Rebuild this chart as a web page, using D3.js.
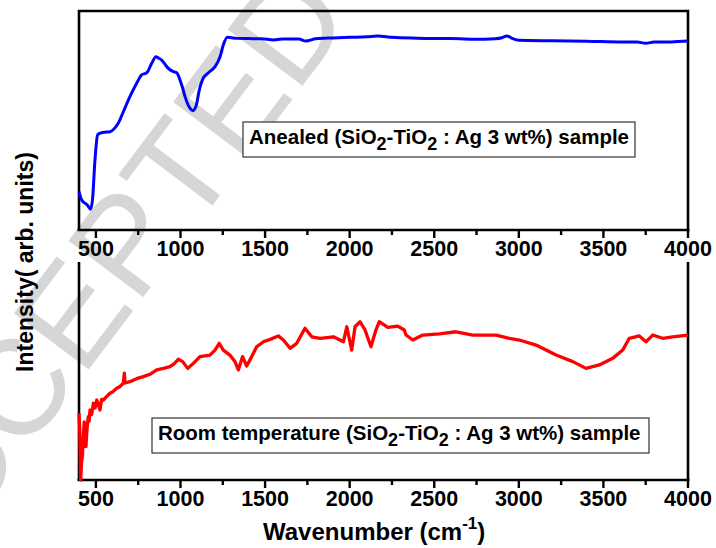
<!DOCTYPE html>
<html>
<head>
<meta charset="utf-8">
<script src="https://cdn.jsdelivr.net/npm/d3@7"></script>
<style>
  body { margin: 0; background: #fff; }
  svg text { font-family: 'Liberation Sans', Arial, sans-serif; font-weight: bold; }
</style>
</head>
<body>
<div class="container"></div>
<script>
// annealed sample (blue, top panel)
const annealedWavenumber = [400, 416, 449, 468, 480, 494, 510, 525, 545, 583, 605, 632, 662, 701, 741, 770, 800, 830, 855, 870, 889, 910, 928, 958, 978, 997, 1012, 1027, 1056, 1072, 1092, 1111, 1131, 1165, 1204, 1234, 1253, 1277, 1300, 1332, 1400, 1480, 1550, 1600, 1700, 1740, 1800, 1900, 2000, 2100, 2165, 2250, 2400, 2600, 2800, 2860, 2900, 2930, 2960, 3000, 3200, 3400, 3615, 3700, 3750, 3800, 3900, 4000]
const annealedIntensity = [17.5, 13.7, 11.4, 9.5, 14, 31.5, 43.4, 44.2, 44.6, 44.9, 46, 48.7, 54.0, 60.9, 67.0, 70.8, 71.8, 76.1, 79.1, 78.5, 77.6, 75.5, 73.8, 72.3, 71.8, 68.5, 65, 60.9, 55.6, 54.5, 56.6, 63.9, 68.8, 71.8, 74.6, 79.1, 84.5, 88.0, 87.8, 87.5, 87.4, 87.3, 86.8, 87.2, 87.2, 86.3, 87.3, 87.7, 88.0, 88.2, 88.6, 88.0, 87.6, 87.4, 87.1, 87.3, 87.8, 88.6, 87.5, 86.6, 86.4, 86.2, 85.8, 85.8, 85.3, 85.8, 85.9, 86.3]

// room temperature sample (red, bottom panel)
const roomWavenumber = [400, 405, 410, 415, 420, 426, 431, 436, 441, 448, 455, 460, 465, 475, 485, 495, 505, 515, 524, 534, 544, 560, 583, 600, 623, 640, 662, 668, 672, 701, 740, 780, 820, 859, 900, 938, 965, 987, 1013, 1042, 1076, 1115, 1174, 1204, 1229, 1253, 1292, 1322, 1342, 1367, 1391, 1421, 1450, 1490, 1530, 1578, 1608, 1648, 1687, 1736, 1776, 1825, 1904, 1963, 1983, 2000, 2012, 2032, 2061, 2090, 2126, 2155, 2175, 2225, 2284, 2323, 2333, 2373, 2432, 2530, 2629, 2728, 2865, 2944, 3003, 3102, 3220, 3319, 3397, 3476, 3555, 3614, 3653, 3712, 3752, 3791, 3850, 3909, 4000]
const roomIntensity = [30.6, 22, 0, 8, 10.7, 20, 26.7, 18, 15.3, 24, 29.0, 27, 32.1, 30, 35.2, 33, 36.7, 34.5, 32.1, 37, 36.7, 38, 39.8, 40.5, 42.1, 42.8, 44.4, 49, 44.5, 45.1, 46.5, 47.4, 48.5, 50.5, 51.2, 52.0, 53.5, 55.4, 54.3, 51.2, 53.5, 56.6, 57.3, 59.6, 62.7, 59.6, 57.3, 54.3, 50.5, 56.6, 52.3, 56.6, 61.1, 63.4, 64.5, 66.1, 64.2, 60.4, 62.7, 69.6, 65.7, 65.0, 65.7, 63.4, 70.3, 64, 59.6, 70.3, 72.6, 69, 61.1, 68.8, 72.6, 70.0, 70.6, 68.8, 66.5, 64.2, 66.5, 67.0, 68.0, 66.5, 66.5, 65.0, 64.2, 61.9, 57.3, 54.3, 51.2, 52.8, 55.8, 59.6, 65.0, 66.1, 63.4, 66.5, 65.0, 65.7, 66.5]

const majorTicks = [500, 1000, 1500, 2000, 2500, 3000, 3500, 4000]
const minorTicks = [750, 1250, 1750, 2250, 2750, 3250, 3750]

const width = 716
const height = 548

const svg = d3.select('.container')
  .append('svg')
  .attr('width', width)
  .attr('height', height)

// watermark
svg.append('text')
  .attr('transform', 'translate(132,312) rotate(-53)')
  .attr('text-anchor', 'middle')
  .style('font-weight', 'normal')
  .style('font-size', '136px')
  .style('fill', '#d6d6d6')
  .text('ACCEPTED')

const x = d3.scaleLinear().domain([400, 4000]).range([79, 688])
const yTop = d3.scaleLinear().domain([0, 100]).range([230, 11])
const yBot = d3.scaleLinear().domain([0, 100]).range([480, 262])

function drawAxis (yPos) {
  const g = svg.append('g').attr('transform', 'translate(0,' + yPos + ')')
  g.append('line')
    .attr('x1', x(400) - 1.5).attr('x2', x(4000) + 1.5)
    .attr('stroke', '#000').attr('stroke-width', 2.6)
  g.selectAll('.major').data(majorTicks).enter().append('line')
    .attr('x1', d => x(d)).attr('x2', d => x(d))
    .attr('y1', 0).attr('y2', 8)
    .attr('stroke', '#000').attr('stroke-width', 2.4)
  g.selectAll('.minor').data(minorTicks).enter().append('line')
    .attr('x1', d => x(d)).attr('x2', d => x(d))
    .attr('y1', 0).attr('y2', 5)
    .attr('stroke', '#000').attr('stroke-width', 2.4)
  g.selectAll('.lbl').data(majorTicks).enter().append('text')
    .attr('x', d => x(d)).attr('y', 26)
    .attr('text-anchor', 'middle')
    .style('font-size', '21.5px')
    .text(d => d)
}

// top panel frame
svg.append('path')
  .attr('d', 'M' + x(400) + ',' + yTop(0) + 'V' + yTop(100) + 'H' + x(4000) + 'V' + yTop(0))
  .attr('fill', 'none').attr('stroke', '#000').attr('stroke-width', 2.6)
drawAxis(yTop(0))

// bottom panel frame (no top border)
svg.append('line')
  .attr('x1', x(400)).attr('x2', x(400)).attr('y1', yBot(100)).attr('y2', yBot(0))
  .attr('stroke', '#000').attr('stroke-width', 2.6)
svg.append('line')
  .attr('x1', x(4000)).attr('x2', x(4000)).attr('y1', yBot(100)).attr('y2', yBot(0))
  .attr('stroke', '#000').attr('stroke-width', 2.6)
drawAxis(yBot(0))

const annealed = annealedWavenumber.map((w, i) => ({ w: w, v: annealedIntensity[i] }))
const room = roomWavenumber.map((w, i) => ({ w: w, v: roomIntensity[i] }))

svg.append('path')
  .attr('d', d3.line().x(d => x(d.w)).y(d => yTop(d.v)).curve(d3.curveMonotoneX)(annealed))
  .attr('fill', 'none').attr('stroke', '#0000ff').attr('stroke-width', 3)
  .attr('stroke-linejoin', 'round')

svg.append('path')
  .attr('d', d3.line().x(d => x(d.w)).y(d => yBot(d.v))(room))
  .attr('fill', 'none').attr('stroke', '#ff0000').attr('stroke-width', 3.3)
  .attr('stroke-linejoin', 'round')

// legend boxes
function legend (bx, by, bw, bh, first) {
  svg.append('rect')
    .attr('x', bx).attr('y', by).attr('width', bw).attr('height', bh)
    .attr('fill', '#fff').attr('stroke', '#333').attr('stroke-width', 1.2)
  const t = svg.append('text')
    .attr('x', bx + 6).attr('y', by + 22)
    .style('font-size', '20.5px')
  t.append('tspan').text(first + ' (SiO')
  t.append('tspan').attr('dy', 6).style('font-size', '18px').text('2')
  t.append('tspan').attr('dy', -6).text('-TiO')
  t.append('tspan').attr('dy', 6).style('font-size', '18px').text('2')
  t.append('tspan').attr('dy', -6).text(' : Ag 3 wt%) sample')
}
legend(243, 122, 392, 35, 'Anealed')
legend(152, 418, 497, 35, 'Room temperature')

// axis titles
svg.append('text')
  .attr('transform', 'translate(33,262) rotate(-90)')
  .attr('text-anchor', 'middle')
  .style('font-size', '23px')
  .text('Intensity( arb. units)')

const xt = svg.append('text')
  .attr('x', 263).attr('y', 540)
  .style('font-size', '24px')
xt.append('tspan').text('Wavenumber (cm')
xt.append('tspan').attr('dy', -11).style('font-size', '17px').text('-1')
xt.append('tspan').attr('dy', 11).text(')')
</script>
</body>
</html>
